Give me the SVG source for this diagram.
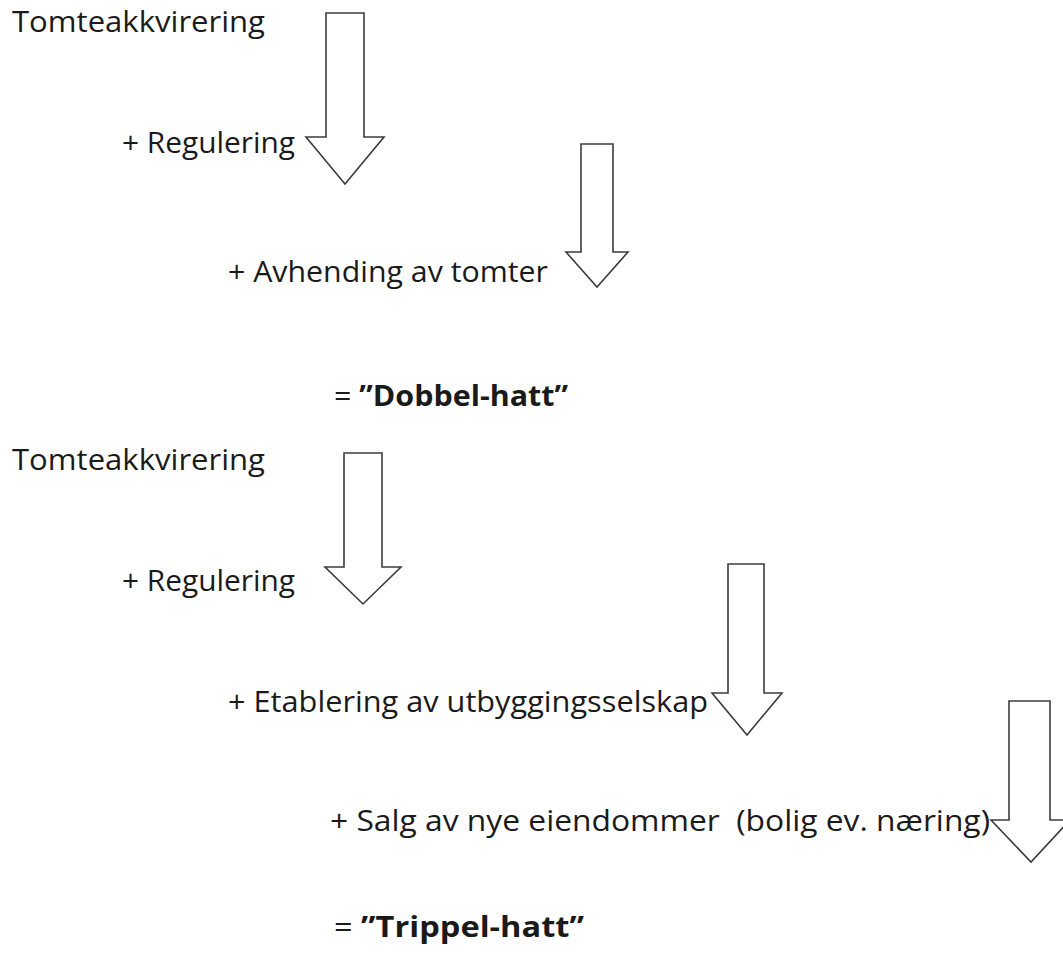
<svg xmlns="http://www.w3.org/2000/svg" width="1063" height="972" viewBox="0 0 1063 972">
<style>
.t{font-family:"Open Sans","Liberation Sans",sans-serif;font-size:29px;fill:#1a1a1a;}
.b{font-weight:bold;}
.arr{fill:#ffffff;stroke:#3c3c3c;stroke-width:1.6;stroke-linejoin:miter;}
</style>
<rect width="1063" height="972" fill="#ffffff"/>
<g id="connectors">
<polygon class="arr" points="326,13 364,13 364,137 384,137 345,184 306,137 326,137"/>
<polygon class="arr" points="581,144 613,144 613,252 628,252 597,287 566,252 581,252"/>
<polygon class="arr" points="344,453 382,453 382,567 401,567 363,604 325,567 344,567"/>
<polygon class="arr" points="728,564 764,564 764,693 782,693 747,735 712,693 728,693"/>
<polygon class="arr" points="1009,701 1050,701 1050,820 1070,820 1031,862 991,820 1009,820"/>
</g>
<g id="n1"><text class="t" x="12" y="32" textLength="253" lengthAdjust="spacingAndGlyphs">Tomteakkvirering</text></g>
<g id="n2"><text class="t" x="122" y="153" textLength="173" lengthAdjust="spacingAndGlyphs">+ Regulering</text></g>
<g id="n3"><text class="t" x="228" y="282" textLength="320" lengthAdjust="spacingAndGlyphs">+ Avhending av tomter</text></g>
<g id="n4"><text class="t" x="334" y="406" textLength="234" lengthAdjust="spacingAndGlyphs">= <tspan class="b">”Dobbel-hatt”</tspan></text></g>
<g id="n5"><text class="t" x="12" y="470" textLength="253" lengthAdjust="spacingAndGlyphs">Tomteakkvirering</text></g>
<g id="n6"><text class="t" x="122" y="591" textLength="173" lengthAdjust="spacingAndGlyphs">+ Regulering</text></g>
<g id="n7"><text class="t" x="228" y="712" textLength="480" lengthAdjust="spacingAndGlyphs">+ Etablering av utbyggingsselskap</text></g>
<g id="n8"><text class="t" x="330" y="831" textLength="660" lengthAdjust="spacingAndGlyphs" xml:space="preserve">+ Salg av nye eiendommer  (bolig ev. næring)</text></g>
<g id="n9"><text class="t" x="334" y="937" textLength="250" lengthAdjust="spacingAndGlyphs">= <tspan class="b">”Trippel-hatt”</tspan></text></g>
</svg>
